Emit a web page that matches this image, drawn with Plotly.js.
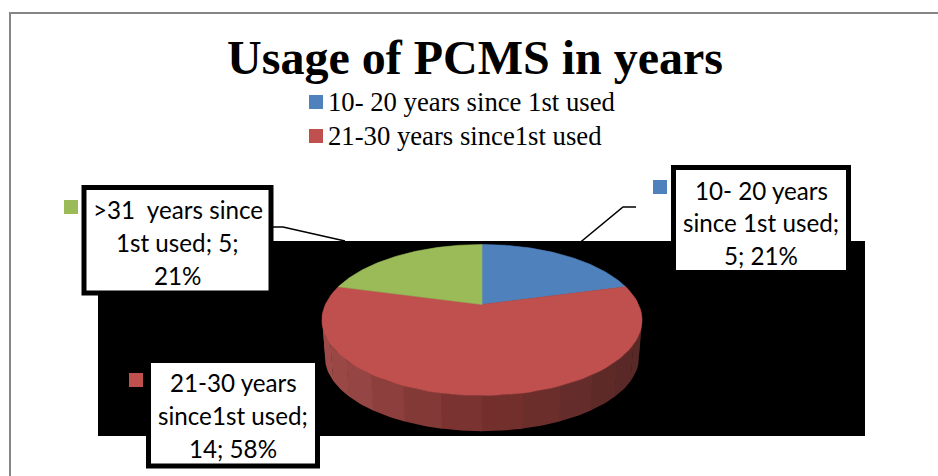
<!DOCTYPE html>
<html>
<head>
<meta charset="utf-8">
<script src="https://cdn.plot.ly/plotly-3.0.1.min.js"></script>
<style>html,body{margin:0;padding:0;background:#fff;overflow:hidden}#chart{width:938px;height:476px}</style>
</head>
<body>
<div id="chart"></div>
<script>
// Data
const categories = ['10- 20 years since 1st used', '21-30 years since1st used', '>31  years since 1st used'];
const values = [5, 14, 5];
const percents = ['21%', '58%', '21%'];
const colors = ['#4f81bd', '#c0504d', '#9bbb59'];
const legendCount = 2; // the reference legend is cut off after two entries
const labelLines = [
  ['10- 20 years', 'since 1st used;', '5; 21%'],
  ['21-30 years', 'since1st used;', '14; 58%'],
  ['>31  years since', '1st used; 5;', '21%']
];
const titleText = 'Usage of PCMS in years';

// Layout constants, in the 1:1 pixel scale of the axes
const P = {cx: 482, cy: 320, rx: 160, ry: 75.5, tilt: 0.205, depth: 37, wallScale: 0.982};
const labelBox = [[673.5, 848.5, 167.5, 272.5], [148.5, 317.5, 360.5, 466], [84, 271, 187.5, 293]];
const labelY = [[190, 222, 255], [382, 415, 448], [209, 242, 275]];
const labelSwatch = [[660, 187], [136, 380], [71, 207]];
const legendSwatch = [[316, 102], [316, 136]];
const legendTextX = 327;
const leaders = [{x: [636, 623, 577], y: [207, 207, 245]}, {x: [273, 283, 345], y: [227, 227, 241]}];
const wallStops = [[0, [160, 76, 74]], [0.22, [150, 70, 68]], [0.5, [118, 48, 45]], [0.78, [92, 42, 40]], [1, [84, 40, 38]]];
const wallBands = 14;

// Perspective view of a point of the pie's disc, theta clockwise from the top
function project(theta, r, dy, s) {
  const u = r * Math.sin(theta), v = r * Math.cos(theta), a = P.tilt;
  const d = 1 + a * v, k = Math.sqrt(1 - a * a);
  return [P.cx + (s || 1) * P.rx * u * k / d, P.cy - (s || 1) * P.ry * (v + a) / d + (dy || 0)];
}
function wallColor(t) {
  for (let i = 1; i < wallStops.length; i++) {
    if (t <= wallStops[i][0]) {
      const [t0, c0] = wallStops[i - 1], [t1, c1] = wallStops[i], f = (t - t0) / (t1 - t0);
      return 'rgb(' + c0.map((c, j) => Math.round(c + (c1[j] - c) * f)).join(',') + ')';
    }
  }
  return 'rgb(84,40,38)';
}

const traces = [];
const total = values.reduce((a, b) => a + b, 0);

// Side wall of the red slice: bands from the left rim, under the front, to the right rim
const wallFrom = 2 * Math.PI * (values[0] / total) - 0.02 + 0.38;
const wallTo = 2 * Math.PI * ((values[0] + values[1]) / total) + 0.02 - 0.38;
for (let b = 0; b < wallBands; b++) {
  const t0 = wallFrom + (wallTo - wallFrom) * b / wallBands;
  const t1 = wallFrom + (wallTo - wallFrom) * (b + 1) / wallBands + 0.005;
  const x = [], y = [];
  for (let i = 0; i <= 8; i++) { const p = project(t0 + (t1 - t0) * i / 8, 1, 0, 1); x.push(p[0]); y.push(p[1]); }
  for (let i = 8; i >= 0; i--) { const p = project(t0 + (t1 - t0) * i / 8, 1, P.depth, P.wallScale); x.push(p[0]); y.push(p[1]); }
  traces.push({type: 'scatter', mode: 'lines', x, y, fill: 'toself', fillcolor: wallColor(1 - b / (wallBands - 1)), line: {width: 0}, hoverinfo: 'skip', showlegend: false});
}

// Top face of the pie, one closed outline per value
let acc = 0;
values.forEach((v, k) => {
  const a0 = 2 * Math.PI * acc / total, a1 = 2 * Math.PI * (acc + v) / total;
  acc += v;
  const apex = project(0, 0);
  const x = [apex[0]], y = [apex[1]], n = 90;
  for (let i = 0; i <= n; i++) { const p = project(a0 + (a1 - a0) * i / n, 1); x.push(p[0]); y.push(p[1]); }
  x.push(apex[0]); y.push(apex[1]);
  traces.push({type: 'scatter', mode: 'lines', x, y, fill: 'toself', fillcolor: colors[k], line: {width: 0.6, color: colors[k]}, name: categories[k],
    text: categories[k] + '; ' + v + '; ' + percents[k], hoverinfo: 'text', showlegend: false});
});

// Leader lines
leaders.forEach(l => traces.push({type: 'scatter', mode: 'lines', x: l.x, y: l.y, line: {color: '#000', width: 1.6}, hoverinfo: 'skip', showlegend: false}));

// Legend keys and data-label keys
const sw = labelSwatch.concat(legendSwatch.slice(0, legendCount));
const swColors = colors.concat(colors.slice(0, legendCount));
traces.push({type: 'scatter', mode: 'markers', x: sw.map(p => p[0]), y: sw.map(p => p[1]),
  marker: {symbol: 'square', size: 14, color: swColors, line: {width: 0}}, hoverinfo: 'skip', showlegend: false});

const annotations = [];
function addText(text, x, y, size, family, anchor) {
  annotations.push({text, x, y, xref: 'x', yref: 'y', xanchor: anchor, yanchor: 'middle', showarrow: false,
    font: {family, size, color: '#000'}, borderpad: 0});
}
categories.slice(0, legendCount).forEach((c, i) => addText(c, legendTextX, legendSwatch[i][1], 26.7, 'Liberation Serif', 'left'));
labelLines.forEach((lines, k) => {
  const b = labelBox[k];
  lines.forEach((t, i) => addText(t, (b[0] + b[1]) / 2, labelY[k][i], 24.2, 'Lato', 'center'));
});

const shapes = [
  {type: 'rect', layer: 'below', x0: 98, x1: 865, y0: 241, y1: 436, fillcolor: '#000', line: {width: 0}},
  {type: 'line', layer: 'below', x0: 10, x1: 10, y0: 13, y1: 476, line: {color: '#868686', width: 2}},
  {type: 'line', layer: 'below', x0: 9, x1: 938, y0: 13, y1: 13, line: {color: '#868686', width: 2}}
].concat(labelBox.map(b => ({type: 'rect', layer: 'above', x0: b[0], x1: b[1], y0: b[2], y1: b[3], fillcolor: '#fff', line: {color: '#000', width: 5}})));

const layout = {
  width: 938, height: 476, margin: {l: 0, r: 0, t: 0, b: 0}, paper_bgcolor: '#fff', plot_bgcolor: '#fff', showlegend: false,
  title: {text: '<b>' + titleText + '</b>', x: 475 / 938, xanchor: 'center', y: 1 - 57 / 476, yanchor: 'middle', font: {family: 'Liberation Serif', size: 48, color: '#000'}},
  xaxis: {range: [0, 938], visible: false, fixedrange: true},
  yaxis: {range: [476, 0], visible: false, fixedrange: true},
  shapes, annotations
};
Plotly.newPlot('chart', traces, layout, {displayModeBar: false});
</script>
</body>
</html>
